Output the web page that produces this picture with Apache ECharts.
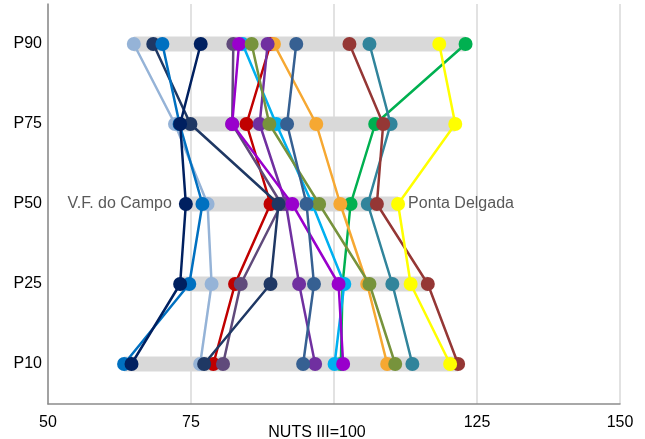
<!DOCTYPE html>
<html><head><meta charset="utf-8">
<script src="https://cdn.jsdelivr.net/npm/echarts@6/dist/echarts.min.js"></script>
<style>html,body{margin:0;padding:0;background:#fff}#c{width:645px;height:439px}</style>
</head><body><div id="c"></div>
<script>
// Percentile categories (bottom to top)
var categories = ['P10', 'P25', 'P50', 'P75', 'P90'];
var xTicks = [50, 75, 100, 125, 150];
// Series values per region, ordered as categories (P10..P90)
var lightBlue   = [76.6, 78.6, 77.9, 72.2, 65.0];
var red         = [78.9, 82.7, 88.9, 84.7, 88.9];
var purpleGray  = [80.6, 83.7, 90.8, 82.2, 82.4];
var darkNavy    = [77.3, 88.9, 90.3, 74.9, 68.4];
var blue        = [63.3, 74.7, 77.0, 73.0, 70.0];
var vfCampo     = [64.6, 73.1, 74.1, 73.1, 76.7];
var magenta     = [101.6, 100.8, 92.7, 82.2, 83.4];
var cyan        = [100.1, 101.8, 96.2, 89.9, 84.0];
var olive       = [110.7, 106.2, 97.4, 88.7, 85.6];
var purple      = [96.7, 93.9, 91.6, 87.0, 88.4];
var orange      = [109.3, 105.8, 101.1, 96.9, 89.5];
var steelBlue   = [94.6, 96.5, 95.2, 91.8, 93.4];
var darkRed     = [121.7, 116.4, 107.5, 108.6, 102.7];
var teal        = [113.7, 110.2, 105.9, 109.9, 106.2];
var green       = [101.2, 101.5, 102.9, 107.2, 123.0];
var pontaDelgada= [120.3, 113.4, 111.2, 121.2, 118.4];

var FONT = 'Liberation Sans, Arial, sans-serif';

var seriesDefs = [
  {name: 'Região A', data: lightBlue, color: '#95B3D7'},
  {name: 'Região O', data: green, color: '#00B050'},
  {name: 'Região H', data: cyan, color: '#00B0F0'},
  {name: 'Região B', data: red, color: '#C00000'},
  {name: 'Região K', data: orange, color: '#F6A832'},
  {name: 'Região J', data: purple, color: '#7030A0'},
  {name: 'Região C', data: purpleGray, color: '#604A7B'},
  {name: 'Região G', data: magenta, color: '#9900CC'},
  {name: 'Região D', data: darkNavy, color: '#1F3864'},
  {name: 'Região E', data: blue, color: '#0070C0'},
  {name: 'V.F. do Campo', data: vfCampo, color: '#002060', label: 'left'},
  {name: 'Região I', data: olive, color: '#77933C'},
  {name: 'Região L', data: steelBlue, color: '#366092'},
  {name: 'Região N', data: teal, color: '#31849B'},
  {name: 'Região M', data: darkRed, color: '#953735'},
  {name: 'Ponta Delgada', data: pontaDelgada, color: '#FFFF00', label: 'right'}
];

var rowMin = categories.map(function(c, i){ return Math.min.apply(null, seriesDefs.map(function(s){return s.data[i];})); });
var rowMax = categories.map(function(c, i){ return Math.max.apply(null, seriesDefs.map(function(s){return s.data[i];})); });

var series = [
  {type: 'bar', stack: 'range', barWidth: 15, silent: true, itemStyle: {color: 'transparent'}, data: rowMin, z: 1},
  {type: 'bar', stack: 'range', barWidth: 15, silent: true, itemStyle: {color: '#D9D9D9'},
   data: rowMax.map(function(v, i){ return +(v - rowMin[i]).toFixed(2); }), z: 1}
];
seriesDefs.forEach(function(s, k){
  series.push({
    type: 'line', name: s.name, z: 3 + k,
    symbol: 'circle', symbolSize: 14,
    lineStyle: {color: s.color, width: 2.5},
    itemStyle: {color: s.color},
    data: s.data.map(function(v, i){
      var d = {value: [v, categories[i]]};
      if (s.label && categories[i] === 'P50') {
        d.label = {show: true, position: s.label, distance: s.label === 'left' ? 7 : 3,
          formatter: s.name, color: '#595959', fontSize: 16, fontFamily: FONT};
      }
      return d;
    })
  });
});

var chart = echarts.init(document.getElementById('c'));
chart.setOption({
  animation: false,
  textStyle: {fontFamily: FONT},
  grid: {left: 48, right: 25, top: 4, bottom: 35, containLabel: false, outerBoundsMode: 'none'},
  xAxis: {
    type: 'value', min: xTicks[0], max: xTicks[xTicks.length - 1], interval: 25,
    axisLine: {show: true, lineStyle: {color: '#8C8C8C', width: 1.5}},
    axisTick: {show: false},
    splitLine: {show: true, lineStyle: {color: '#D9D9D9', width: 1.5}},
    axisLabel: {color: '#000', fontSize: 16, margin: 11, fontFamily: FONT,
      formatter: function(v){ return v === 100 ? '{n|NUTS III=100}' : String(v); },
      rich: {n: {fontSize: 16, color: '#000', fontFamily: FONT, padding: [10, 34, 0, 0]}}}
  },
  yAxis: {
    type: 'category', data: categories, boundaryGap: true,
    axisLine: {show: true, lineStyle: {color: '#8C8C8C', width: 1.5}},
    axisTick: {show: false},
    splitLine: {show: false},
    axisLabel: {color: '#000', fontSize: 16, margin: 6, fontFamily: FONT}
  },
  series: series
});
</script></body></html>
